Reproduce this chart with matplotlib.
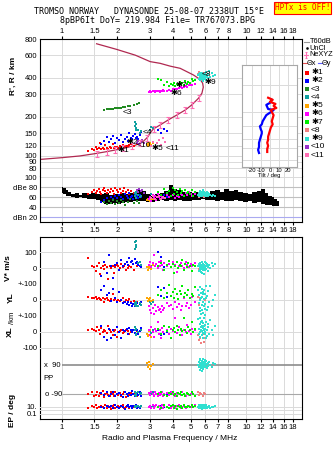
import matplotlib
matplotlib.use('Agg')
import matplotlib.pyplot as plt
from matplotlib.path import Path
from matplotlib.ticker import NullLocator

plt.rcParams['font.family'] = ['Liberation Sans', 'DejaVu Sans']

W, H = 335, 451
FMIN, FMAX = 0.759, 20.1
GRID = '#dadada'

freq_ticks = [1, 1.5, 2, 3, 4, 5, 6, 7, 8, 10, 12, 14, 16, 18]
freq_labels = ['1', '1.5', '2', '3', '4', '5', '6', '7', '8', '10', '12', '14', '16', '18']
range_ticks = [80, 90, 100, 120, 150, 200, 300, 400, 600, 800]
amp_ticks = [100, 80, 60, 40, 20]
amp_labels = ['100', 'dBe 80', '60', '40', 'dBn 20']

# profile trace and NeXYZ points
trace_f = [0.76, 1.0, 1.25, 1.5, 1.75, 2.0, 2.25, 2.5, 2.77, 2.92,
           3.0, 3.14, 3.4, 3.78, 4.2, 4.66, 5.07, 5.51, 5.75, 5.85,
           5.8, 5.62, 5.17, 4.38, 3.86, 3.41, 3.01, 2.5, 1.98, 1.54]
trace_r = [94, 97, 100, 104, 108, 112, 116, 121, 130, 140,
           150, 162, 173, 190, 207, 226, 248, 279, 305, 340,
           365, 390, 422, 475, 494, 519, 535, 600, 665, 735]
ne_f = [1.54, 1.75, 1.94, 2.15, 2.39, 2.65, 2.88, 3.14, 3.4, 3.78, 4.2, 4.66, 5.07, 5.51]
ne_r = [104, 108, 111, 115, 120, 126, 137, 162, 173, 190, 207, 226, 248, 279]

# T60dB amplitude band
band_f = [1.00, 1.03, 1.06, 1.10, 1.15, 1.20, 1.26, 1.32, 1.40, 1.48,
          1.56, 1.65, 1.75, 1.85, 1.95, 2.05, 2.15, 2.25, 2.38, 2.50,
          2.65, 2.80, 2.95, 3.10, 3.30, 3.50, 3.70, 3.90, 4.10, 4.35,
          4.60, 4.90, 5.20, 5.50, 5.80, 6.20, 6.60, 7.00, 7.40, 7.80,
          8.30, 8.80, 9.30, 9.90, 10.5, 11.1, 11.7, 12.3, 12.9, 13.5,
          14.0, 14.5, 15.0]
band_hi = [80, 79, 74, 70, 66, 68, 65, 68, 66, 69,
           67, 66, 68, 65, 67, 66, 68, 66, 69, 70,
           74, 72, 66, 63, 67, 69, 72, 84, 76, 74,
           71, 70, 68, 70, 67, 69, 73, 75, 71, 77,
           72, 74, 70, 68, 66, 71, 72, 76, 68, 62,
           60, 56, 52]
band_lo = [68, 66, 63, 62, 60, 59, 60, 58, 57, 56,
           54, 50, 47, 46, 48, 47, 49, 50, 51, 52,
           53, 52, 50, 51, 52, 54, 53, 55, 52, 54,
           53, 52, 54, 55, 56, 55, 54, 52, 54, 53,
           52, 54, 52, 50, 52, 48, 50, 46, 45, 44,
           43, 42, 42]

# echo groups: freq, range, amplitude, V*, YL, XL, PP, EP
f1 = [1.38, 1.45, 1.50, 1.52, 1.55, 1.58, 1.60, 1.63, 1.66, 1.70,
      1.72, 1.75, 1.78, 1.82, 1.85, 1.88, 1.92, 1.95, 1.98, 2.02,
      2.06, 2.10, 2.14, 2.18, 2.22, 2.27, 2.32, 2.38, 2.45, 2.55]
r1 = [110, 114, 112, 118, 113, 115, 126, 113, 116, 114,
      121, 115, 113, 117, 116, 124, 115, 118, 117, 116,
      119, 118, 122, 117, 120, 119, 121, 123, 120, 124]
a1 = [66, 70, 74, 68, 72, 76, 70, 66, 74, 78,
      72, 68, 75, 70, 77, 73, 66, 79, 74, 71,
      76, 68, 73, 78, 70, 74, 67, 72, 69, 65]
v1 = [60, 10, 5, -20, 15, 30, -40, 0, 10, -5,
      20, 5, -70, 10, 0, 15, -30, 5, 20, 10,
      0, 25, 5, 10, -15, 0, 15, 5, -10, 10]
yl1 = [20, 15, 10, 20, 5, 12, 8, 0, 15, -10,
       5, 10, 0, -5, 8, 40, 0, 5, -8, 2,
       -5, 0, 10, -10, 0, -5, 5, -12, -8, -10]
xl1 = [10, 20, 15, 5, 30, 10, -10, 25, 0, 15,
       5, -5, 40, 10, 0, -20, 5, 10, -30, 0,
       5, 10, -5, 0, 15, 5, -10, 0, 10, 5]
pp1 = [-90, -80, -100, -95, -75, -105, -85, -90, -70, -110,
       -90, -85, -95, -100, -80, -90, -105, -75, -90, -95,
       -85, -100, -90, -80, -110, -90, -95, -85, -90, -100]
ep1 = [6, 20, 10, 30, 4, 12, 8, 25, 10, 5,
       35, 7, 15, 10, 3, 18, 40, 6, 12, 22,
       8, 14, 28, 5, 10, 16, 4, 20, 9, 12]

f2 = [1.62, 1.70, 1.75, 1.80, 1.85, 1.90, 1.95, 2.00, 2.05, 2.10,
      2.15, 2.20, 2.24, 2.28, 2.32, 2.36, 2.40, 2.44, 2.48, 2.52,
      2.56, 2.60, 2.65, 2.70, 3.30, 3.45, 3.60, 3.70]
r2 = [124, 130, 140, 128, 135, 142, 127, 138, 132, 145,
      128, 136, 140, 131, 150, 138, 134, 143, 148, 137,
      141, 135, 146, 152, 158, 150, 162, 155]
a2 = [50, 55, 58, 52, 60, 56, 62, 58, 64, 60,
      57, 66, 62, 59, 68, 61, 63, 57, 65, 60,
      62, 58, 64, 60, 66, 62, 64, 60]
v2 = [-50, 40, -30, 80, 10, -60, 20, 30, -10, 50,
      15, 25, 40, 20, 60, 35, 45, 25, 55, 30,
      40, 20, 10, 5, 100, 70, 8, 20]
yl2 = [60, 90, 30, 45, -5, 70, 10, -15, 50, 0,
       -20, -10, -25, -15, -30, -20, -35, -25, -40, -30,
       -20, -35, -25, -15, 80, 25, 75, 20]
xl2 = [40, -30, -50, 20, -40, 10, -20, 30, 0, -35,
       15, 5, 20, -10, 25, 10, 0, 15, -5, 20,
       10, -15, 5, 25, 10, -20, -10, 0]
pp2 = [-85, -95, -80, -100, -90, -75, -105, -90, -85, -95,
       -110, -80, -90, -100, -85, -95, -70, -90, -105, -85,
       -90, -95, -80, -100, -90, -85, -95, -90]
ep2 = [12, 5, 25, 8, 15, 4, 30, 10, 6, 20,
       11, 3, 14, 35, 9, 18, 5, 22, 10, 40,
       7, 13, 4, 16, 9, 25, 10, 12]

f3 = [1.70, 1.75, 1.80, 1.85, 1.90, 1.95, 2.00, 2.05, 2.10, 2.15,
      2.20, 2.28, 2.35, 2.45, 2.55, 2.62]
r3 = [228, 230, 229, 232, 231, 234, 233, 236, 235, 238,
      237, 241, 244, 246, 250, 255]
a3 = [50, 47, 53, 49, 55, 46, 52, 48, 54, 50,
      45, 51, 56, 48, 53, 49]

f4 = [2.48, 2.50, 2.51, 2.52, 2.53, 2.60, 2.65, 2.70, 3.00, 3.05, 3.10]
r4 = [170, 182, 160, 176, 165, 158, 150, 155, 160, 168, 164]
a4 = [68, 62, 70, 58, 66, 64, 60, 62, 60, 66, 64]
v4 = [160, 120, 145, 130, 170, 30, 40, 20, 35, 10, 25]
yl4 = [-20, -30, -15, -40, -25, -35, -20, -30, -10, -25, -15]
xl4 = [30, 10, -20, 20, -10, 0, -30, 15, 5, -5, 10]
pp4 = [-80, -95, -85, -100, -90, -75, -90, -85, -95, -90, -80]
ep4 = [15, 10, 20, 8, 12, 25, 10, 14, 9, 12, 18]

f5 = [2.88, 2.92, 2.95, 2.98, 3.02, 3.06, 3.10]
r5 = [124, 120, 127, 122, 126, 121, 125]
a5 = [55, 57, 54, 56, 53, 55, 57]
v5 = [5, -10, 15, 0, 10, -5, 20]
yl5 = [10, -5, 5, 0, 12, -8, 3]
xl5 = [-10, -25, 5, -20, 10, -30, 0]
pp5 = [100, 75, 90, 110, 65, 85, 95]

f6 = [2.95, 3.00, 3.05, 3.10, 3.15, 3.20, 3.25, 3.30, 3.35, 3.40,
      3.45, 3.50, 3.55, 3.60, 3.70, 3.80, 3.90, 4.00, 4.10, 4.20,
      4.30, 4.40, 4.50, 4.60, 4.70, 4.80, 4.90, 5.00, 5.10, 5.25]
r6 = [314, 318, 312, 316, 320, 313, 317, 315, 319, 314,
      318, 316, 321, 317, 320, 322, 318, 326, 330, 328,
      335, 338, 334, 342, 346, 340, 350, 355, 352, 362]
a6 = [56, 60, 52, 64, 58, 62, 55, 66, 60, 57,
      63, 59, 61, 58, 64, 60, 62, 65, 59, 63,
      61, 66, 64, 62, 68, 65, 70, 66, 63, 67]
v6 = [20, 40, 5, 30, 80, 15, 25, 0, 35, 10,
      45, 20, -10, 30, 15, 25, 5, 40, 20, -25,
      10, 30, 15, 0, 35, 20, 5, 25, 10, 30]
yl6 = [-40, -60, -80, -50, -90, -30, -70, -45, -65, -55,
       -75, -35, -60, -50, -20, -40, -30, -55, -10, -45,
       -25, -60, -35, 10, -40, -20, -50, -30, 20, -15]
xl6 = [10, -20, 30, 0, -30, 20, 5, 60, -10, 15,
       -35, 25, 0, 40, 10, -15, 20, 5, 90, -5,
       30, 10, -20, 15, 0, 45, 5, -10, 20, 10]
pp6 = [-85, -95, -75, -90, -100, -80, -90, -105, -85, -95,
       -90, -80, -100, -90, -85, -95, -75, -90, -100, -85,
       -90, -95, -80, -90, -105, -85, -95, -90, -80, -100]
ep6 = [10, 25, 4, 40, 6, 15, 30, 8, 18, 3,
       12, 35, 5, 20, 10, 45, 7, 22, 4, 14,
       30, 6, 12, 25, 5, 10, 18, 8, 15, 28]

f7 = [3.30, 3.45, 3.60, 3.70, 3.80, 3.90, 3.98, 4.05, 4.12, 4.20,
      4.27, 4.35, 4.42, 4.50, 4.58, 4.66, 4.75, 4.85, 4.95, 5.05,
      5.15, 5.25]
r7 = [392, 385, 350, 372, 345, 362, 355, 368, 348, 360,
      352, 375, 358, 366, 355, 380, 362, 372, 368, 390,
      378, 385]
a7 = [70, 64, 76, 68, 72, 62, 78, 66, 74, 70,
      65, 77, 69, 73, 63, 75, 68, 71, 66, 74,
      62, 70]
v7 = [10, 30, -10, 20, 45, 5, 25, -30, 15, 35,
      0, 20, 10, 50, -15, 25, 5, 30, 15, -20,
      20, 10]
yl7 = [30, 60, 10, 45, 95, 25, 50, 15, 70, 35,
       5, 55, 40, 90, 20, 45, 30, 60, 10, 40,
       25, 80]
xl7 = [20, -10, 40, 5, 30, -40, 15, 25, 0, 35,
       10, -20, 20, 5, 85, 15, -5, 30, 10, 60,
       0, 20]
pp7 = [-90, -80, -95, -100, -85, -90, -75, -95, -90, -105,
       -85, -90, -80, -95, -90, -100, -85, -90, -95, -80,
       -90, -100]
ep7 = [12, 5, 30, 10, 4, 20, 40, 7, 15, 3,
       25, 9, 18, 6, 35, 10, 12, 22, 8, 30,
       11, 16]

f8 = [5.45, 5.55, 5.60, 5.70, 5.80, 5.90, 6.00]
r8 = [430, 445, 412, 425, 440, 405, 418]
a8 = [64, 60, 66, 62, 65, 61, 63]
v8 = [10, -5, 20, 0, 15, 5, -10]
yl8 = [20, -30, 10, 45, -15, 35, 0]
xl8 = [-20, -50, -35, -70, -15, -60, -40]
pp8 = [-80, -95, -85, -90, -100, -85, -90]

f9 = [5.48, 5.52, 5.55, 5.58, 5.60, 5.62, 5.64, 5.66, 5.68, 5.70,
      5.72, 5.74, 5.76, 5.78, 5.80, 5.82, 5.84, 5.86, 5.88, 5.90,
      5.92, 5.94, 5.96, 5.98, 6.00, 6.03, 6.06, 6.10, 6.14, 6.18,
      6.22, 6.30, 6.40, 6.50, 6.62, 6.75]
r9 = [420, 395, 432, 405, 415, 388, 440, 402, 425, 392,
      410, 436, 398, 418, 382, 428, 406, 394, 416, 400,
      422, 396, 408, 412, 430, 386, 445, 404, 418, 398,
      426, 452, 410, 438, 415, 424]
a9 = [64, 68, 62, 70, 66, 72, 64, 68, 63, 71,
      67, 65, 69, 62, 74, 66, 70, 64, 68, 65,
      71, 63, 67, 66, 64, 69, 62, 70, 65, 68,
      63, 66, 64, 62, 65, 63]
v9 = [10, -20, 25, 0, -10, 30, 15, -25, 5, 20,
      -5, 35, 10, -30, 0, 25, -15, 15, 5, -40,
      20, 0, 40, 10, -10, 30, -5, 15, 25, -20,
      5, 20, 0, 30, 10, 25]
yl9 = [60, -20, 30, -70, 80, 0, -50, 45, -90, 15,
       -30, 70, -60, 20, -10, 50, -80, 35, -40, 5,
       65, -25, -95, 40, -55, 10, 85, -65, 25, -45,
       55, -15, 90, -35, 0, 30]
xl9 = [80, 20, -10, 50, 0, 90, -30, 30, 10, 60,
       -20, 40, 5, 70, -40, 25, 55, -5, 15, 85,
       35, -15, 45, 0, 20, -35, 65, 10, -25, 50,
       30, -10, 75, 15, -20, 40]
pp9 = [90, 110, 75, 130, 95, 60, 120, 85, 100, 70,
       115, 90, 55, 105, 80, 125, 95, 65, 110, 85,
       100, 75, 120, 90, 105, 80, 115, 95, 70, 100,
       85, 110, 90, 75, 100, 95]
ep9 = [10, 30, 5, 40, 12, 6, 25, 8, 18, 4,
       35, 10, 15, 3, 22, 9, 45, 7, 14, 28,
       5, 11, 20, 8, 16, 6, 30, 10, 4, 13,
       9, 24, 7, 12, 10, 15]

f10 = [2.55, 2.60, 2.63, 2.67, 2.72, 2.78]
r10 = [126, 131, 123, 128, 133, 125]
a10 = [74, 70, 77, 72, 75, 69]

f11 = [3.05, 3.12, 3.20, 3.28, 3.35, 3.45, 3.55, 3.62]
r11 = [120, 128, 118, 125, 132, 122, 138, 128]
a11 = [58, 62, 56, 60, 63, 57, 61, 59]

group_names = ['\u27311', '\u27312', '<3', '<4', '\u27315', '\u27316', '\u27317', '<8', '\u27319', '<10', '<11']
group_colors = ['#ff0000', '#0000ff', '#228b22', '#10a0a0', '#ffa500', '#ff00ff',
                '#00ee00', '#f08080', '#30e0d0', '#9932cc', '#ff6eb4']
label_f = [2.0, 2.25, 2.12, 2.75, 3.06, 3.9, 4.15, 5.75, 5.9, 2.55, 3.66]
label_r = [110, 128, 215, 152, 115, 305, 350, 425, 368, 120, 115]

# tilt inset
thx_h = [68, 66, 64, 62, 60, 58, 56, 54, 51, 48, 45, 42, 39, 36, 33, 30, 27, 24, 21, 18, 15]
thx = [-2, 3, 0, 6, 4, 7, 1, 2, 4, 3, 2, 3, 1, 0, -1, -2, -2, -3, -2, -3, -3]
thy_h = [66, 63, 61, 59, 57, 56, 54, 51, 48, 45, 42, 40, 37, 35, 33, 30, 27, 24, 20, 17, 14]
thy = [2, 0, -4, -3, -2, 4, 1, -4, -6, -8, -9, -11, -10, -9, -9, -10, -11, -12, -12, -13, -12]
tilt_ticks = [-20, -10, 0, 10, 20]
tilt_grid = [80, 54, 40, 28, 19, 7]

groups = [
    (f1, r1, a1, v1, yl1, xl1, pp1, ep1),
    (f2, r2, a2, v2, yl2, xl2, pp2, ep2),
    (f3, r3, a3, None, None, None, None, None),
    (f4, r4, a4, v4, yl4, xl4, pp4, ep4),
    (f5, r5, a5, v5, yl5, xl5, pp5, None),
    (f6, r6, a6, v6, yl6, xl6, pp6, ep6),
    (f7, r7, a7, v7, yl7, xl7, pp7, ep7),
    (f8, r8, a8, v8, yl8, xl8, pp8, None),
    (f9, r9, a9, v9, yl9, xl9, pp9, ep9),
    (f10, r10, a10, None, None, None, None, None),
    (f11, r11, a11, None, None, None, None, None),
]

I_MARK = Path([(-1, 2), (1, 2), (0, 2), (0, -2), (-1, -2), (1, -2)],
              [Path.MOVETO, Path.LINETO, Path.MOVETO, Path.LINETO, Path.MOVETO, Path.LINETO])

fig = plt.figure(figsize=(W / 100, H / 100), dpi=100)


def add_px(x0, y0, x1, y1):
    return fig.add_axes([x0 / W, 1 - y1 / H, (x1 - x0) / W, (y1 - y0) / H])


def freq_axis(ax, labels=True):
    ax.set_xscale('log')
    ax.set_xlim(FMIN, FMAX)
    if labels:
        ax.set_xticks(freq_ticks, freq_labels)
    else:
        ax.set_xticks([])
    ax.xaxis.set_minor_locator(NullLocator())


def dots(ax, x, y, col, s=4):
    ax.scatter(x, y, s=s, c=col, marker='s', linewidths=0, zorder=3)


def ftext(x, y, s, **kw):
    fig.text(x / W, 1 - y / H, s, **kw)


# --- virtual range panel
axA = add_px(40, 39, 302, 176)
freq_axis(axA)
axA.set_yscale('log')
axA.set_ylim(70, 800)
axA.set_yticks(range_ticks, [str(t) for t in range_ticks])
axA.yaxis.set_minor_locator(NullLocator())
axA.set_axisbelow(True)
axA.grid(True, color=GRID, lw=0.7)
axA.tick_params(axis='x', top=True, bottom=False, labeltop=True, labelbottom=False,
                length=2, pad=1, labelsize=5.5)
axA.tick_params(axis='y', length=0, pad=2, labelsize=5.5)
axA.spines['bottom'].set_visible(False)
axA.plot(trace_f, trace_r, color='#b02850', lw=0.9, zorder=2)
axA.plot(ne_f, ne_r, ls='none', marker=I_MARK, ms=4.5, mew=0.8, color='#ff6eb4', zorder=4)
for g, col in zip(groups, group_colors):
    dots(axA, g[0], g[1], col)
for name, lf, lr in zip(group_names, label_f, label_r):
    axA.text(lf, lr, name, fontsize=6, color='black', va='center', ha='left', zorder=5)

# --- amplitude panel
axB = add_px(40, 176, 302, 222)
freq_axis(axB)
axB.set_ylim(10.6, 102.6)
axB.set_yticks(amp_ticks, amp_labels)
axB.set_axisbelow(True)
axB.grid(True, axis='x', color=GRID, lw=0.7)
axB.axhline(100, color=GRID, lw=0.7)
for lev in [80, 60, 40]:
    axB.axhline(lev, color='#c0c0c0', lw=0.8)
axB.axhline(20, color='#aaaaf0', lw=0.8)
axB.tick_params(axis='x', length=2, pad=1.5, labelsize=5.5)
axB.tick_params(axis='y', length=0, pad=2, labelsize=5.5)
axB.spines['top'].set_visible(False)
axB.fill_between(band_f, band_lo, band_hi, step='mid', color='black', lw=0, zorder=2)
for g, col in zip(groups, group_colors):
    dots(axB, g[0], g[2], col)

# --- tilt inset
axT = add_px(241.7, 65, 297.3, 167.3)
axT.set_xlim(-31, 30)
axT.set_ylim(0, 100)
axT.set_xticks(tilt_ticks, [str(t) for t in tilt_ticks])
axT.set_yticks([])
axT.set_axisbelow(True)
axT.grid(True, axis='x', color=GRID, lw=0.7)
for h in tilt_grid:
    axT.axhline(h, color=GRID, lw=0.7)
for sp in axT.spines.values():
    sp.set_color('#a8a8a8')
axT.tick_params(length=0, pad=0.8, labelsize=4.2)
axT.set_xlabel('Tilt / deg', fontsize=4.2, labelpad=0)
axT.plot(thy, thy_h, color='#0000ff', lw=1.6)
axT.plot(thx, thx_h, color='#ff0000', lw=1.6)

# --- drift panel frame
axC = add_px(40, 237, 302, 419)
freq_axis(axC)
axC.set_ylim(0, 1)
axC.set_yticks([])
axC.grid(True, axis='x', color=GRID, lw=0.7)
axC.tick_params(axis='x', length=2, pad=1.5, labelsize=5.5)


def sub_axes(y0, y1, lo, hi, ticks, labels, scale='linear'):
    ax = add_px(40, y0, 302, y1)
    ax.patch.set_alpha(0)
    for sp in ax.spines.values():
        sp.set_visible(False)
    freq_axis(ax, labels=False)
    ax.set_yscale(scale)
    ax.set_ylim(lo, hi)
    ax.set_yticks(ticks, labels)
    ax.yaxis.set_minor_locator(NullLocator())
    ax.tick_params(axis='y', length=0, pad=2, labelsize=5.5)
    ax.tick_params(axis='x', length=0)
    return ax


axV = sub_axes(237, 284, -100, 194, [100, 0], ['100', '0'])
axY = sub_axes(284, 316, -100, 100, [100, 0], ['+-100', '0'])
axX = sub_axes(316, 356, -150, 100, [100, 0, -100], ['+-100', '0', '-100'])
axP = sub_axes(356, 400, -127, 146, [], [])
axE = sub_axes(400, 419, 0.0037, 1000, [10, 0.1], ['10.', '0.1'], scale='log')

for lev in [100, 0, -100]:
    axV.axhline(lev, color=GRID, lw=0.7, zorder=1)
for lev in [0, -100]:
    axY.axhline(lev, color=GRID, lw=0.7, zorder=1)
    axX.axhline(lev, color=GRID, lw=0.7, zorder=1)
for lev in [10, 1, 0.1]:
    axE.axhline(lev, color=GRID, lw=0.7, zorder=1)
axP.hlines(90, 1.0, FMAX, color='#8c8c8c', lw=1.2, zorder=1)
axP.hlines(-90, 1.0, FMAX, color='#a8a8a8', lw=0.8, zorder=1)
axP.text(0.98, 90, 'x  90', fontsize=5.5, ha='right', va='center')
axP.text(0.79, 9, 'PP', fontsize=5.5, ha='left', va='center')
axP.text(1.0, -90, 'o -90', fontsize=5.5, ha='right', va='center')

for g, col in zip(groups, group_colors):
    f, v, yl, xl, pp, ep = g[0], g[3], g[4], g[5], g[6], g[7]
    if v is not None:
        dots(axV, f, v, col)
        dots(axY, f, yl, col)
        dots(axX, f, xl, col)
    if pp is not None:
        dots(axP, f, pp, col)
    if ep is not None:
        dots(axE, f, ep, col)

# --- legend column
axL = add_px(302, 35, 335, 160)
axL.set_xlim(302, 335)
axL.set_ylim(160, 35)
axL.axis('off')
axL.plot([304, 309], [41.7, 41.7], color='#999999', lw=0.8)
axL.text(309.5, 41.7, 'T60dB', fontsize=5.3, va='center')
axL.plot([307], [48.3], marker='s', ms=0.8, color='black')
axL.text(309.5, 48.3, 'UnCl', fontsize=5.3, va='center')
axL.plot([306], [55], marker=I_MARK, ms=4, mew=0.8, color='#ff6eb4')
axL.plot([304, 308], [55, 55], color='#ff6eb4', lw=0.8)
axL.text(309, 55, 'NeXYZ', fontsize=5.3, va='center')
axL.plot([303, 306.5], [63.3, 63.3], color='#e05050', lw=0.8)
axL.text(307, 63.3, '\u0398x', fontsize=5.3, va='center')
axL.plot([318, 321.5], [63.3, 63.3], color='#6060ff', lw=0.8)
axL.text(322, 63.3, '\u0398y', fontsize=5.3, va='center')
for i, (name, col) in enumerate(zip(group_names, group_colors)):
    yy = 72.7 + 8.25 * i
    axL.scatter([307.3], [yy], s=7, c=col, marker='s', linewidths=0)
    axL.text(311, yy, name, fontsize=6, va='center')

# --- titles and axis labels
ftext(149, 12, 'TROMSO NORWAY   DYNASONDE 25-08-07 2338UT 15\u00b0E',
      family='DejaVu Sans Mono', fontsize=6, ha='center', va='center')
ftext(157, 20.5, '8pBP6It DoY= 219.984 File= TR767073.BPG',
      family='DejaVu Sans Mono', fontsize=6, ha='center', va='center')
ftext(302.5, 8, 'HPTx is OFF!', family='DejaVu Sans Mono', fontsize=5.5, color='red',
      ha='center', va='center',
      bbox=dict(boxstyle='square,pad=0.15', fc='#ffff00', ec='red', lw=0.8))
ftext(13, 76, "R', R / km", fontsize=6, fontweight='bold', rotation=90, ha='center', va='center')
ftext(9, 268, 'V* m/s', fontsize=6, fontweight='bold', rotation=90, ha='center', va='center')
ftext(11, 298, 'YL', fontsize=6, fontweight='bold', rotation=90, ha='center', va='center')
ftext(12, 318, '/km', fontsize=5.5, rotation=90, ha='center', va='center')
ftext(10, 332, 'XL', fontsize=6, fontweight='bold', rotation=90, ha='center', va='center')
ftext(12, 410, 'EP / deg', fontsize=6, fontweight='bold', rotation=90, ha='center', va='center')
ftext(170, 439, 'Radio and Plasma Frequency / MHz', fontsize=6, ha='center', va='center')

fig.savefig('out.png', dpi=100)
